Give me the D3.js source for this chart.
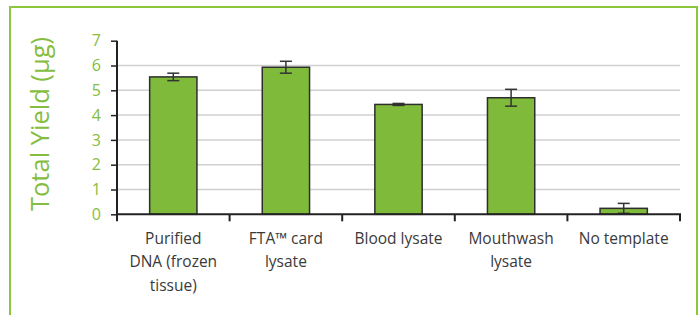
<!DOCTYPE html>
<html><head><meta charset="utf-8">
<script src="https://cdn.jsdelivr.net/npm/d3@7"></script>
<style>body{margin:0;background:#fff}svg{display:block}</style>
</head><body>
<svg id="c" width="700" height="315"></svg>
<script>
const categories = [["Purified","DNA (frozen","tissue)"],["FTA™ card","lysate"],["Blood lysate"],["Mouthwash","lysate"],["No template"]];
const values = [5.54, 5.93, 4.43, 4.70, 0.24];
const errors = [0.15, 0.24, 0.04, 0.34, 0.2];
const yTicks = [0,1,2,3,4,5,6,7];
const yTitle = "Total Yield (µg)";

const svg = d3.select("#c");
const green = "#84bd3f";
const font = "'Open Sans', sans-serif";
const m = {left:117, right:680, top:40.7, bottom:214.3};

// frame
svg.append("path").attr("d","M10,330 V7 H697 V330").attr("fill","none").attr("stroke","#8cc63f").attr("stroke-width",2);

const x = d3.scaleBand().domain(d3.range(categories.length)).range([m.left,m.right]).paddingInner(0).paddingOuter(0);
const y = d3.scaleLinear().domain([0,7]).range([m.bottom,m.top]);

// gridlines
svg.append("g").selectAll("line").data(yTicks.filter(t=>t>0&&t<7)).join("line")
  .attr("x1",m.left).attr("x2",m.right).attr("y1",d=>y(d)).attr("y2",d=>y(d))
  .attr("stroke","#d0d0d0").attr("stroke-width",1.5);

// bars
const bw = x.bandwidth()*0.42;
svg.append("g").selectAll("rect").data(values).join("rect")
  .attr("x",(d,i)=>x(i)+x.bandwidth()/2-bw/2).attr("width",bw)
  .attr("y",d=>y(d)).attr("height",d=>y(0)-y(d))
  .attr("fill","#7fba3a").attr("stroke","#2e2e2e").attr("stroke-width",1.5);

// error bars
const eg = svg.append("g").attr("stroke","#333").attr("stroke-width",1.5);
values.forEach((v,i)=>{
  const cx = x(i)+x.bandwidth()/2;
  eg.append("line").attr("x1",cx).attr("x2",cx).attr("y1",y(v+errors[i])).attr("y2",y(v-errors[i]));
  [v+errors[i],v-errors[i]].forEach(e=>eg.append("line").attr("x1",cx-6).attr("x2",cx+6).attr("y1",y(e)).attr("y2",y(e)));
});

// y axis
const ya = svg.append("g").attr("transform",`translate(${m.left},0)`)
  .call(d3.axisLeft(y).tickValues(yTicks).tickFormat(d3.format("d")).tickSize(6).tickPadding(10));
ya.select(".domain").attr("stroke","#222").attr("stroke-width",2).attr("d",`M0,${m.top}V${m.bottom}`);
ya.selectAll(".tick line").attr("stroke","#222").attr("stroke-width",1.5);
ya.selectAll(".tick text").attr("fill",green).attr("font-family",font).attr("font-size",16);

// x axis
const xa = svg.append("g").attr("transform",`translate(0,${m.bottom})`);
xa.append("line").attr("x1",m.left-1).attr("x2",m.right+1).attr("stroke","#222").attr("stroke-width",2);
const bounds = d3.range(categories.length).map(i=>x(i)).concat([m.right]);
xa.selectAll("line.t").data(bounds).join("line").attr("class","t")
  .attr("x1",d=>d).attr("x2",d=>d).attr("y1",0).attr("y2",7).attr("stroke","#222").attr("stroke-width",2);
categories.forEach((lines,i)=>{
  const t = xa.append("text").attr("x",x(i)+x.bandwidth()/2).attr("y",29.5)
    .attr("text-anchor","middle").attr("fill","#3a3a3a").attr("font-family",font).attr("font-size",15.5);
  lines.forEach((l,j)=>t.append("tspan").attr("x",x(i)+x.bandwidth()/2).attr("dy",j?23.5:0).text(l));
});

// y title
svg.append("text").attr("transform",`translate(49,124) rotate(-90)`).attr("text-anchor","middle")
  .attr("fill",green).attr("font-family",font).attr("font-size",25.5).text(yTitle);
</script>
</body></html>
